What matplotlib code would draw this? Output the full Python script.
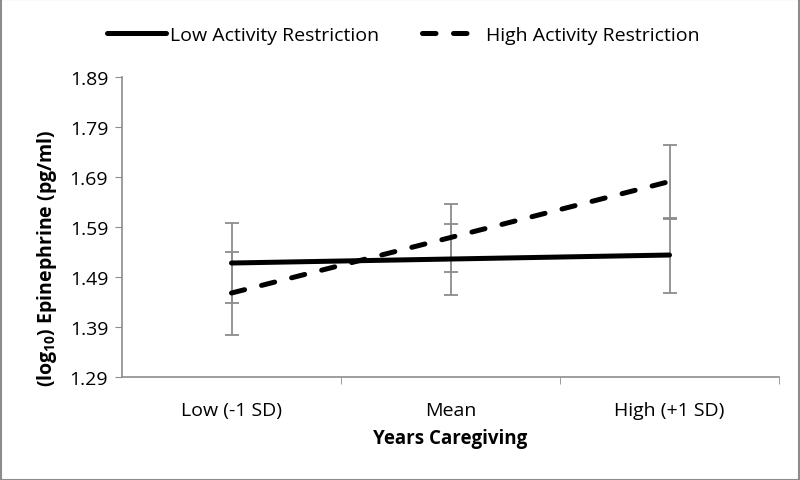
import matplotlib.pyplot as plt

# data
categories = ["Low (-1 SD)", "Mean", "High (+1 SD)"]
low_restriction = [1.518, 1.526, 1.534]
low_err = [0.080, 0.071, 0.075]
high_restriction = [1.458, 1.569, 1.681]
high_err = [0.083, 0.068, 0.074]
y_ticks = [1.29, 1.39, 1.49, 1.59, 1.69, 1.79, 1.89]

plt.rcParams['font.family'] = ['Open Sans', 'DejaVu Sans']
plt.rcParams['mathtext.fontset'] = 'custom'
plt.rcParams['mathtext.bf'] = 'Open Sans:bold'
plt.rcParams['mathtext.rm'] = 'Open Sans'

fig = plt.figure(figsize=(8, 4.81), dpi=100)
ax = fig.add_axes([0.1525, 0.2141, 0.8213, 0.6237])

x = range(len(categories))
grey = "#8c8c8c"

# error bars
ax.errorbar(x, low_restriction, yerr=low_err, fmt='none', ecolor=grey,
            elinewidth=1.3, capsize=5, capthick=1.3, zorder=2)
ax.errorbar(x, high_restriction, yerr=high_err, fmt='none', ecolor=grey,
            elinewidth=1.3, capsize=5, capthick=1.3, zorder=2)

# lines
ax.plot(x, low_restriction, color='black', lw=3.6, solid_capstyle='round',
        label="Low Activity Restriction", zorder=3)
ax.plot(x, high_restriction, color='black', lw=3.6, ls=(0, (2.7, 3.5)),
        dash_capstyle='round', label="High Activity Restriction", zorder=3)

ax.set_xlim(-0.5, 2.5)
ax.set_ylim(1.29, 1.89)
ax.set_yticks(y_ticks)
ax.set_yticklabels([f"{v:.2f}" for v in y_ticks])
ax.set_xticks(x)
ax.set_xticklabels(categories)
ax.set_xticks([0.5, 1.5, 2.5], minor=True)

for s in ['top', 'right']:
    ax.spines[s].set_visible(False)
for s in ['left', 'bottom']:
    ax.spines[s].set_color(grey)
    ax.spines[s].set_linewidth(1.2)

ax.tick_params(axis='y', length=5, color=grey, labelsize=14, pad=5)
ax.tick_params(axis='x', which='major', length=0, labelsize=14, pad=17)
ax.tick_params(axis='x', which='minor', length=5, color=grey)

ax.set_xlabel("Years Caregiving", fontsize=13.5, fontweight='bold', labelpad=7)
fig.text(0.059, 0.463, r"(log$_{\mathbf{10}}$) Epinephrine (pg/ml)", fontsize=14,
         fontweight='bold', rotation=90, ha='center', va='center')

fig.legend(loc='center', bbox_to_anchor=(0.504, 0.925), ncol=2,
           frameon=False, fontsize=14, handlelength=3.0, columnspacing=2.2,
           handletextpad=0.25, borderpad=0, borderaxespad=0)

# grey border around the figure
fig.patches.append(plt.Rectangle((0.001, 0.001), 0.998, 0.998, transform=fig.transFigure,
                                 fill=False, edgecolor=grey, lw=1.5))

fig.savefig("out.png", dpi=100)
